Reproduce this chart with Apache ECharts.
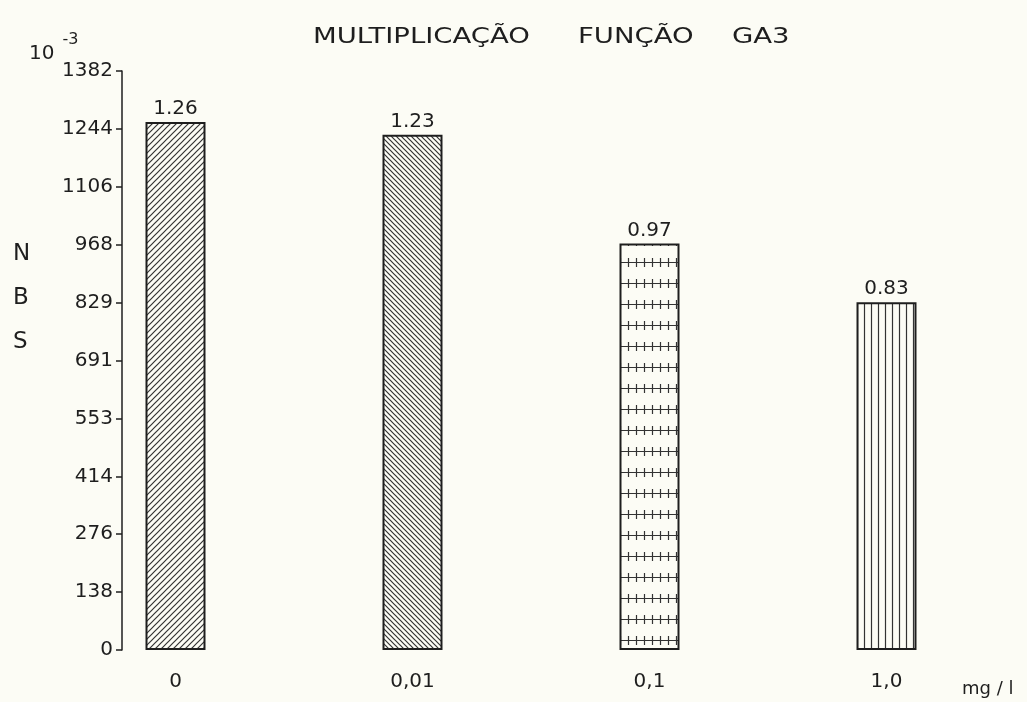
<!DOCTYPE html>
<html><head><meta charset="utf-8">
<script src="https://cdn.jsdelivr.net/npm/echarts@6/dist/echarts.min.js"></script>
<style>html,body{margin:0;padding:0;background:#fcfcf5;}#c{width:1027px;height:702px;}</style>
</head><body><div id="c"></div>
<script>
const categories = ['0', '0,01', '0,1', '1,0'];
const values = [1260, 1230, 970, 830]; // NBS x 10^-3
const valueLabels = ['1.26', '1.23', '0.97', '0.83'];
const yTickLabels = ['0', '138', '276', '414', '553', '691', '829', '968', '1106', '1244', '1382'];
const titleWords = ['MULTIPLICAÇÃO', 'FUNÇÃO', 'GA3'];
const yMax = 1382;
const yStep = 138.2;

const INK = '#1e1e1e';
const FONT = '"DejaVu Sans", sans-serif';

function pattern(w, h, draw) {
  const c = document.createElement('canvas');
  c.width = w; c.height = h;
  const ctx = c.getContext('2d');
  ctx.fillStyle = '#fcfcf5';
  ctx.fillRect(0, 0, w, h);
  ctx.strokeStyle = '#333';
  ctx.lineWidth = 1.2;
  draw(ctx, w, h);
  return { image: c, repeat: 'repeat' };
}
const pSlash = pattern(6, 6, (ctx, w, h) => {
  ctx.beginPath();
  ctx.moveTo(-1, h + 1); ctx.lineTo(w + 1, -1);
  ctx.moveTo(-1, 1); ctx.lineTo(1, -1);
  ctx.moveTo(w - 1, h + 1); ctx.lineTo(w + 1, h - 1);
  ctx.stroke();
});
const pBack = pattern(5, 5, (ctx, w, h) => {
  ctx.beginPath();
  ctx.moveTo(-1, -1); ctx.lineTo(w + 1, h + 1);
  ctx.moveTo(w - 1, -1); ctx.lineTo(w + 1, 1);
  ctx.moveTo(-1, h - 1); ctx.lineTo(1, h + 1);
  ctx.stroke();
});
const pCross = pattern(8, 21, (ctx, w, h) => {
  ctx.beginPath();
  ctx.moveTo(0, 10.5); ctx.lineTo(w, 10.5);
  ctx.moveTo(4.5, 6); ctx.lineTo(4.5, 15);
  ctx.stroke();
});
const pVert = pattern(7, 7, (ctx, w, h) => {
  ctx.beginPath();
  ctx.moveTo(3.5, 0); ctx.lineTo(3.5, h);
  ctx.stroke();
});
const fills = [pSlash, pBack, pCross, pVert];

const titleX = [313, 578, 732];

const chart = echarts.init(document.getElementById('c'));
chart.setOption({
  backgroundColor: '#fcfcf5',
  animation: false,
  grid: { left: 57, right: 22, top: 71, bottom: 52 },
  xAxis: {
    type: 'category',
    data: categories,
    axisLine: { show: false },
    axisTick: { show: false },
    axisLabel: { margin: 22, fontFamily: FONT, fontSize: 20, color: INK }
  },
  yAxis: {
    type: 'value',
    min: 0, max: yMax, interval: yStep,
    offset: -65,
    splitLine: { show: false },
    axisLine: { show: true, lineStyle: { color: INK, width: 1.5 } },
    axisTick: { show: true, length: 6, lineStyle: { color: INK, width: 1.5 } },
    axisLabel: {
      margin: 9, fontFamily: FONT, fontSize: 20, color: INK,
      formatter: v => yTickLabels[Math.round(v / yStep)]
    }
  },
  series: [{
    type: 'bar',
    barWidth: 60,
    data: values.map((v, i) => ({
      value: v,
      itemStyle: { color: fills[i], borderColor: INK, borderWidth: 2 }
    })),
    label: {
      show: true, position: 'top', distance: 3,
      fontFamily: FONT, fontSize: 20, color: INK,
      formatter: p => valueLabels[p.dataIndex]
    }
  }],
  graphic: [
    ...titleWords.map((w, i) => ({
      type: 'text', x: titleX[i], y: 26, scaleX: 1.25,
      style: { text: w, fontFamily: FONT, fontSize: 22, fill: INK }
    })),
    {
      type: 'text', left: 29, top: 32,
      style: {
        text: '{b|10}{s|-3}',
        rich: {
          b: { fontFamily: FONT, fontSize: 20, fill: INK, padding: [12, 0, 0, 0] },
          s: { fontFamily: FONT, fontSize: 16, fill: INK, verticalAlign: 'top', padding: [0, 0, 0, 8] }
        }
      }
    },
    {
      type: 'text', left: 13, top: 232,
      style: { text: 'N\nB\nS', fontFamily: FONT, fontSize: 23, lineHeight: 44, fill: INK }
    },
    {
      type: 'text', left: 962, top: 680,
      style: { text: 'mg / l', fontFamily: FONT, fontSize: 18, fill: INK }
    }
  ]
});
</script>
</body></html>
